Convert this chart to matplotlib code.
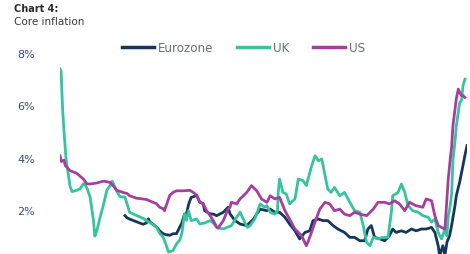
import matplotlib
matplotlib.use('Agg')
import matplotlib.pyplot as plt

# core inflation, % y/y
uk_years = [1992.0, 1992.08, 1992.2, 1992.3, 1992.45, 1992.55, 1992.75, 1992.9, 1993.25, 1993.5,
            1993.75, 1993.9, 1994.0, 1994.25, 1994.5, 1994.6, 1994.75, 1995.0, 1995.25, 1995.5,
            1995.75, 1995.9, 1996.25, 1996.5, 1996.85, 1997.2, 1997.7, 1998.2, 1998.45, 1998.9,
            1999.2, 1999.45, 1999.7, 1999.9, 2000.1, 2000.3, 2000.45, 2000.7, 2000.95, 2001.1,
            2001.3, 2001.45, 2001.6, 2001.8, 2002.2, 2002.45, 2002.8, 2003.2, 2003.45, 2003.7,
            2004.2, 2004.55, 2004.8, 2005.2, 2005.45, 2005.8, 2006.0, 2006.2, 2006.55, 2006.95,
            2007.3, 2007.45, 2007.7, 2008.05, 2008.25, 2008.3, 2008.4, 2008.65, 2008.9, 2009.15,
            2009.55, 2009.8, 2010.15, 2010.4, 2010.8, 2011.05, 2011.3, 2011.55, 2011.8, 2012.0,
            2012.25, 2012.5, 2012.9, 2013.25, 2013.65, 2014.0, 2014.4, 2014.65, 2014.9, 2015.15,
            2015.4, 2015.75, 2016.1, 2016.5, 2016.75, 2016.85, 2017.25, 2017.5, 2017.75, 2018.0,
            2018.35, 2018.75, 2019.1, 2019.5, 2019.75, 2020.0, 2020.25, 2020.5, 2020.75, 2020.9,
            2021.0, 2021.1, 2021.25, 2021.35, 2021.5, 2021.6, 2021.85, 2022.0, 2022.1, 2022.25]
uk_vals = [7.39, 7.3, 5.8, 5.0, 3.95, 3.6, 2.9, 2.70, 2.75, 2.81,
           3.0, 2.94, 2.85, 2.49, 1.6, 1.0, 1.2, 1.73, 2.2, 2.75,
           2.94, 3.1, 2.7, 2.5, 2.49, 1.91, 1.79, 1.68, 1.6, 1.45,
           1.35, 1.1, 0.96, 0.7, 0.39, 0.42, 0.45, 0.7, 0.85, 1.1,
           1.84, 1.6, 1.97, 1.59, 1.65, 1.46, 1.5, 1.59, 1.5, 1.33,
           1.27, 1.35, 1.4, 1.72, 1.91, 1.53, 1.33, 1.4, 1.65, 2.23,
           2.1, 2.16, 1.91, 1.84, 1.97, 2.67, 3.18, 2.67, 2.61, 2.23,
           2.42, 3.18, 3.12, 2.93, 3.69, 4.07, 3.88, 3.95, 3.31, 2.80,
           2.67, 2.86, 2.54, 2.67, 2.29, 1.97, 1.91, 1.4, 0.76, 0.63,
           0.95, 0.89, 0.95, 0.95, 1.91, 2.54, 2.67, 2.99, 2.67, 2.16,
           1.97, 1.91, 1.78, 1.72, 1.53, 1.65, 1.14, 0.89, 1.27, 1.01,
           1.78, 2.0, 2.6, 3.9, 4.6, 5.2, 6.1, 6.2, 6.75, 7.0]

us_years = [1992.0, 1992.1, 1992.3, 1992.4, 1992.5, 1992.75, 1993.25, 1993.75, 1994.0, 1994.25,
            1994.75, 1995.25, 1995.75, 1996.25, 1996.7, 1997.0, 1997.2, 1997.7, 1998.45, 1998.95,
            1999.2, 1999.45, 1999.7, 1999.8, 2000.2, 2000.45, 2000.7, 2001.2, 2001.7, 2001.95,
            2002.2, 2002.45, 2002.7, 2002.95, 2003.2, 2003.45, 2003.7, 2003.8, 2004.2, 2004.55,
            2004.7, 2004.8, 2005.2, 2005.45, 2005.95, 2006.3, 2006.7, 2007.05, 2007.45, 2007.7,
            2008.05, 2008.4, 2008.8, 2009.15, 2009.55, 2010.05, 2010.4, 2010.65, 2011.05, 2011.4,
            2011.8, 2012.15, 2012.5, 2012.9, 2013.25, 2013.65, 2014.0, 2014.4, 2014.9, 2015.4,
            2015.75, 2016.25, 2016.6, 2017.0, 2017.35, 2017.75, 2018.1, 2018.6, 2019.1, 2019.35,
            2019.75, 2020.0, 2020.25, 2020.5, 2020.75, 2020.9, 2021.0, 2021.15, 2021.25, 2021.35,
            2021.6, 2021.75, 2021.85, 2022.0, 2022.1, 2022.25]
us_vals = [4.07, 3.85, 3.9, 3.69, 3.64, 3.50, 3.40, 3.18, 3.0, 2.99,
           3.03, 3.10, 3.05, 2.75, 2.67, 2.63, 2.54, 2.45, 2.40, 2.29,
           2.24, 2.10, 2.05, 1.97, 2.56, 2.67, 2.73, 2.73, 2.75, 2.67,
           2.56, 2.29, 2.24, 1.97, 1.79, 1.59, 1.35, 1.30, 1.59, 2.03,
           2.1, 2.29, 2.23, 2.42, 2.67, 2.93, 2.73, 2.42, 2.29, 2.54,
           2.42, 2.48, 1.97, 1.65, 1.27, 1.01, 0.63, 0.95, 1.53, 2.03,
           2.29, 2.23, 1.97, 2.03, 1.84, 1.78, 1.91, 1.84, 1.78, 2.03,
           2.29, 2.29, 2.23, 2.35, 2.23, 1.97, 2.29, 2.16, 2.10, 2.42,
           2.35, 1.78, 1.40, 1.33, 1.27, 2.42, 3.18, 3.95, 4.4, 5.22,
           6.24, 6.62, 6.50, 6.37, 6.37, 6.3]

ez_years = [1996.85, 1997.0, 1997.2, 1997.45, 1997.7, 1998.2, 1998.45, 1998.6, 1998.7, 1999.2,
            1999.45, 1999.7, 1999.95, 2000.2, 2000.45, 2000.7, 2000.95, 2001.1, 2001.3, 2001.45,
            2001.6, 2001.7, 2001.8, 2001.95, 2002.2, 2002.45, 2002.7, 2002.8, 2003.2, 2003.45,
            2003.7, 2004.2, 2004.55, 2004.7, 2004.8, 2005.05, 2005.45, 2005.95, 2006.45, 2006.95,
            2007.45, 2007.7, 2008.05, 2008.4, 2008.8, 2009.15, 2009.55, 2009.9, 2010.3, 2010.65,
            2010.9, 2011.3, 2011.65, 2012.0, 2012.4, 2012.75, 2013.25, 2013.65, 2014.0, 2014.4,
            2014.75, 2015.0, 2015.25, 2015.5, 2015.9, 2016.25, 2016.6, 2016.85, 2017.1, 2017.5,
            2017.85, 2018.25, 2018.6, 2019.0, 2019.35, 2019.75, 2020.0, 2020.25, 2020.35, 2020.6,
            2020.75, 2020.9, 2021.1, 2021.25, 2021.5, 2021.6, 2021.85, 2022.1, 2022.25, 2022.4]
ez_vals = [1.78, 1.70, 1.65, 1.60, 1.55, 1.45, 1.50, 1.66, 1.55, 1.35,
           1.20, 1.09, 1.05, 1.03, 1.09, 1.09, 1.35, 1.50, 1.84, 1.85,
           2.20, 2.35, 2.48, 2.50, 2.56, 2.29, 2.24, 1.97, 1.85, 1.84,
           1.78, 1.91, 2.10, 1.85, 1.78, 1.60, 1.46, 1.40, 1.65, 2.03,
           1.97, 2.03, 1.91, 1.91, 1.72, 1.46, 1.20, 0.89, 1.14, 1.20,
           1.59, 1.65, 1.59, 1.59, 1.40, 1.27, 1.14, 0.95, 0.95, 0.82,
           0.82, 1.27, 1.40, 0.95, 0.89, 0.82, 1.01, 1.27, 1.14, 1.20,
           1.14, 1.27, 1.20, 1.27, 1.27, 1.33, 1.14, 0.63, 0.25, 0.63,
           0.25, 0.76, 1.01, 1.40, 2.16, 2.54, 3.06, 3.7, 4.1, 4.46]

y_ticks = [2, 4, 6, 8]
y_labels = ['2%', '4%', '6%', '8%']

fig = plt.figure(figsize=(4.7, 2.55), dpi=100)
ax = fig.add_axes([60/470, 0, 407/470, 215/255])

lw = 2.0
ax.plot(ez_years, ez_vals, color='#16365c', lw=lw, label='Eurozone', solid_joinstyle='round')
ax.plot(uk_years, uk_vals, color='#35c49c', lw=lw, label='UK', solid_joinstyle='round')
ax.plot(us_years, us_vals, color='#a53f9f', lw=lw, label='US', solid_joinstyle='round')

ax.set_xlim(1992.0, 2022.4)
ax.set_ylim(0.314, 8.535)
ax.set_xticks([])
ax.set_yticks(y_ticks)
ax.set_yticklabels(y_labels, color='#3b4a6b', fontsize=8)
ax.tick_params(axis='y', length=0, pad=18)
for s in ax.spines.values():
    s.set_visible(False)

leg = ax.legend(ncol=3, loc='upper left', bbox_to_anchor=(0.125, 1.04), frameon=False,
                fontsize=8.6, handlelength=2.7, handletextpad=0.3, columnspacing=2.0)
for t in leg.get_texts():
    t.set_color('#6b6f78')
for h in leg.get_lines():
    h.set_linewidth(2.5)

fig.text(14/470, 1 - 9/255, 'Chart 4:', fontsize=7, fontweight='bold', color='#2b2b2b', va='center')
fig.text(14/470, 1 - 22/255, 'Core inflation', fontsize=7.5, color='#3a3a3a', va='center')

fig.savefig('out.png', dpi=100)
